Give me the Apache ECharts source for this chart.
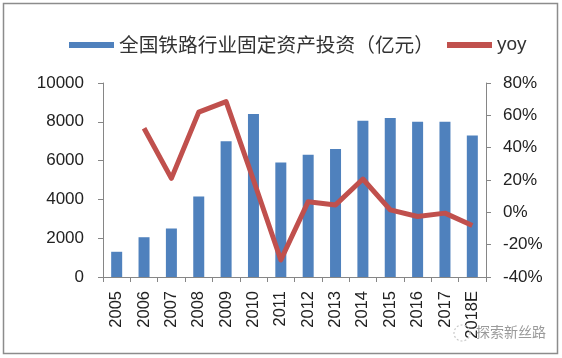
<!DOCTYPE html>
<html>
<head>
<meta charset="utf-8">
<script src="https://cdn.jsdelivr.net/npm/echarts@6/dist/echarts.min.js"></script>
<style>
html,body{margin:0;padding:0;background:#fff;}
#c{width:562px;height:358px;}
</style>
</head>
<body>
<div id="c"></div>
<script>
var years = ['2005','2006','2007','2008','2009','2010','2011','2012','2013','2014','2015','2016','2017','2018E'];
var investment = [1300, 2050, 2500, 4150, 7000, 8400, 5900, 6300, 6600, 8050, 8200, 8000, 8000, 7300];
var yoy = [null, 52, 21, 62, 68.5, 20, -29.5, 6.6, 4.6, 20.6, 1.5, -2.6, -0.5, -8.2];
var leftTicks = {min: 0, max: 10000, interval: 2000};
var rightTicks = {min: -40, max: 80, interval: 20};
var barName = '全国铁路行业固定资产投资（亿元）';
var lineName = 'yoy';

var chart = echarts.init(document.getElementById('c'), null, {renderer: 'canvas'});
var axisColor = '#868686';
var labelFont = 'Liberation Sans, Arial, sans-serif';
chart.setOption({
  animation: false,
  backgroundColor: '#ffffff',
  grid: {left: 103, right: 76, top: 83, bottom: 81, containLabel: false},
  legend: {
    left: 64, top: 29,
    itemWidth: 45, itemHeight: 6, itemGap: 13,
    textStyle: {fontSize: 19.7, color: '#333', fontFamily: 'Noto Sans CJK SC, sans-serif', lineHeight: 22},
    data: [
      {name: barName, icon: 'rect'},
      {name: lineName, icon: 'rect', itemStyle: {color: '#C0504D'}, textStyle: {fontSize: 19, fontFamily: labelFont}}
    ]
  },
  xAxis: {
    type: 'category', data: years, boundaryGap: true,
    axisLine: {lineStyle: {color: axisColor, width: 1}},
    axisTick: {show: true, alignWithLabel: false, length: 5, lineStyle: {color: axisColor}},
    axisLabel: {rotate: 90, fontSize: 16.5, color: '#222', fontFamily: labelFont, margin: 14, interval: 0}
  },
  yAxis: [
    {
      type: 'value', min: leftTicks.min, max: leftTicks.max, interval: leftTicks.interval,
      axisLine: {show: true, lineStyle: {color: axisColor}},
      axisTick: {show: true, length: 5, lineStyle: {color: axisColor}},
      splitLine: {show: false},
      axisLabel: {fontSize: 17, color: '#222', fontFamily: labelFont, margin: 19, formatter: function (v) { return String(v); }}
    },
    {
      type: 'value', min: rightTicks.min, max: rightTicks.max, interval: rightTicks.interval,
      position: 'right',
      axisLine: {show: true, lineStyle: {color: axisColor}},
      axisTick: {show: true, length: 5, lineStyle: {color: axisColor}},
      splitLine: {show: false},
      axisLabel: {fontSize: 17, color: '#222', fontFamily: labelFont, margin: 17, formatter: '{value}%'}
    }
  ],
  series: [
    {
      name: barName, type: 'bar', data: investment, barWidth: 11,
      itemStyle: {color: '#4F81BD'}, yAxisIndex: 0
    },
    {
      name: lineName, type: 'line', data: yoy, yAxisIndex: 1,
      symbol: 'none', showSymbol: false, connectNulls: false,
      lineStyle: {color: '#C0504D', width: 5, join: 'round'},
      itemStyle: {color: '#C0504D'}
    }
  ],
  graphic: [
    {type: 'rect', shape: {x: 3.5, y: 3.5, width: 554, height: 350}, style: {fill: 'none', stroke: '#8c8c8c', lineWidth: 1.5}, z: 100},
    {type: 'circle', shape: {cx: 462, cy: 333, r: 8}, style: {fill: 'none', stroke: '#c8c8c8', lineWidth: 1.2, lineDash: [2, 2]}, z: 100},
    {type: 'text', left: 476, top: 325, style: {text: '探索新丝路', fill: '#9a9a9a', font: '14px "Noto Sans CJK SC", sans-serif'}, z: 100}
  ]
});
</script>
</body>
</html>
